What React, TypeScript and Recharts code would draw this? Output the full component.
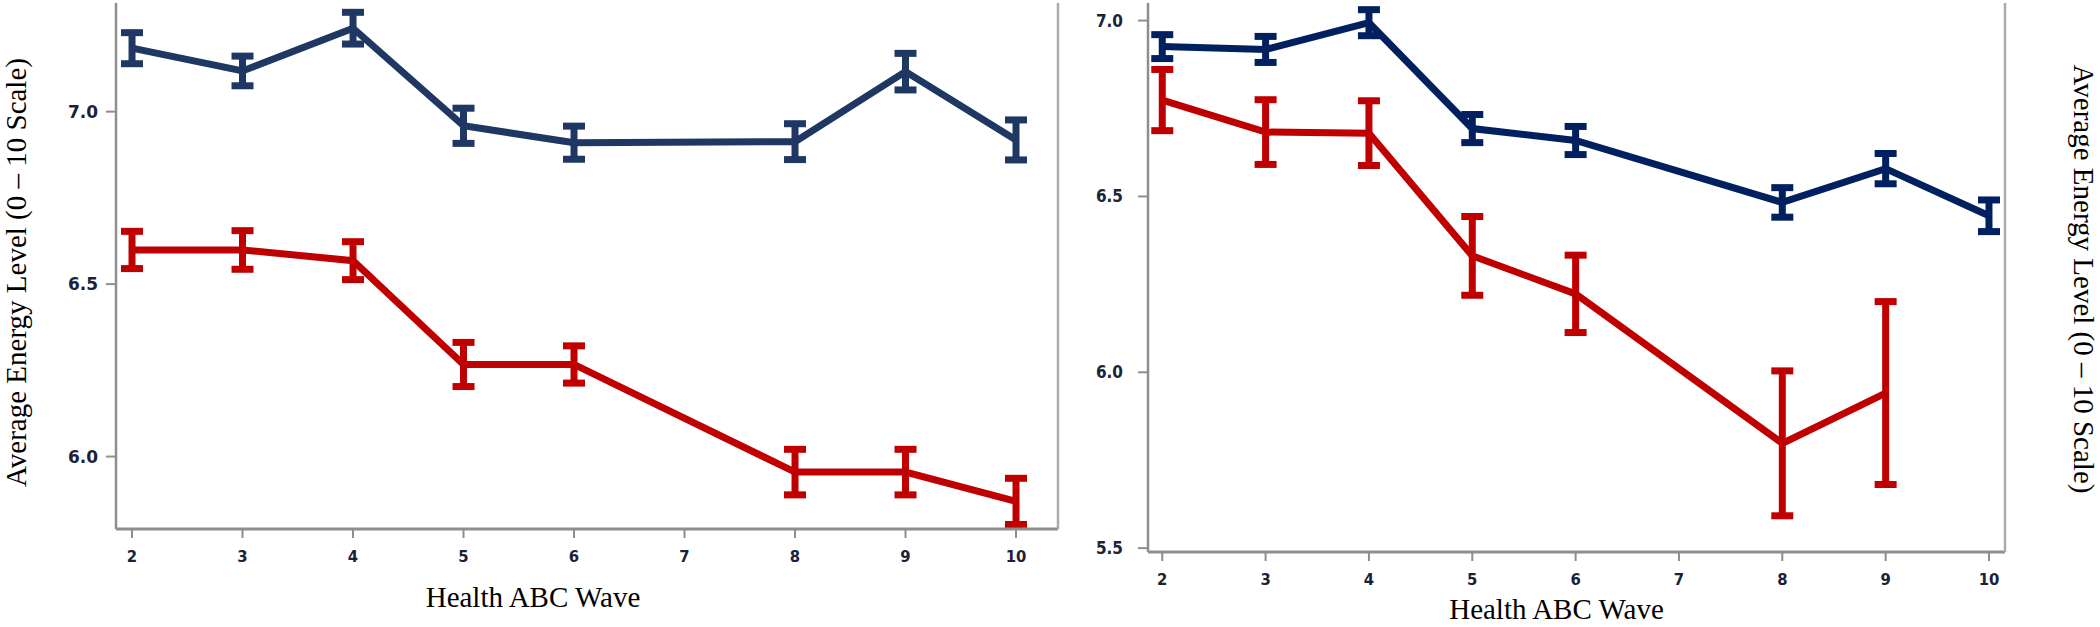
import { LineChart, Line, XAxis, YAxis, ErrorBar } from "recharts";

// Health ABC waves shown on both panels
const waves = [2, 3, 4, 5, 6, 8, 9, 10];
const waveTicks = [2, 3, 4, 5, 6, 7, 8, 9, 10];

// left panel
const leftBlue = [7.184, 7.118, 7.242, 6.959, 6.91, 6.913, 7.116, 6.918];
const leftBlueErr = [0.045, 0.043, 0.046, 0.051, 0.048, 0.052, 0.053, 0.058];
const leftRed = [6.599, 6.599, 6.568, 6.267, 6.267, 5.955, 5.955, 5.87];
const leftRedErr = [0.054, 0.056, 0.055, 0.064, 0.054, 0.066, 0.066, 0.067];
const leftYTicks = [6.0, 6.5, 7.0];

// right panel (no red value at wave 10)
const rightBlue = [6.926, 6.918, 6.994, 6.693, 6.659, 6.483, 6.579, 6.445];
const rightBlueErr = [0.034, 0.037, 0.037, 0.04, 0.04, 0.042, 0.043, 0.045];
const rightRed = [6.774, 6.683, 6.68, 6.331, 6.223, 5.798, 5.941, null];
const rightRedErr = [0.087, 0.092, 0.092, 0.112, 0.11, 0.206, 0.26, null];
const rightYTicks = [5.5, 6.0, 6.5, 7.0];

const yTitle = "Average Energy Level (0 \u2013 10 Scale)";
const xTitle = "Health ABC Wave";

const serif = "'Liberation Serif', 'Times New Roman', serif";
const tickFont = "'DejaVu Sans Condensed', 'DejaVu Sans', sans-serif";
const frameColor = "#ababab";
const axisColor = "#8e8e8e";
const tickColor = "#1b2238";
const red = "#c00000";

function buildRows(blue: any[], blueErr: any[], redVals: any[], redErr: any[]) {
  return waves.map((w, i) => ({
    wave: w,
    blue: blue[i],
    blueErr: blueErr[i],
    red: redVals[i],
    redErr: redErr[i],
  }));
}

const leftRows = buildRows(leftBlue, leftBlueErr, leftRed, leftRedErr);
const rightRows = buildRows(rightBlue, rightBlueErr, rightRed, rightRedErr);

function Panel(props: any) {
  const {
    rows, left, width, yWidth, rightWidth, xHeight, xDomain, yDomain, yTicks,
    blue, yTick, yTickMargin, xLabel, yLabel, rightLabel,
  } = props;

  const titleStyle = { fontFamily: serif, fontSize: 29, fill: "#000", style: { fontFamily: serif } };

  return (
    <div style={{ position: "absolute", left, top: 0 }}>
      <LineChart
        width={width}
        height={627}
        data={rows}
        margin={{ top: 3, right: 0, bottom: 0, left: 0 }}
      >
        <XAxis
          xAxisId="top"
          orientation="top"
          type="number"
          domain={xDomain}
          allowDataOverflow
          height={0}
          tick={false}
          tickLine={false}
          axisLine={{ stroke: frameColor, strokeWidth: 2.5 }}
        />
        <XAxis
          dataKey="wave"
          type="number"
          domain={xDomain}
          allowDataOverflow
          ticks={waveTicks}
          interval={0}
          height={xHeight}
          tickSize={9}
          tickMargin={12}
          axisLine={{ stroke: axisColor, strokeWidth: 3 }}
          tickLine={{ stroke: axisColor, strokeWidth: 2 }}
          tick={{ fontFamily: tickFont, fontSize: 16.5, fontWeight: "bold", fill: tickColor }}
          label={{ value: xTitle, position: "center", dx: xLabel.dx, dy: xLabel.dy, ...titleStyle }}
        />
        <YAxis
          type="number"
          domain={yDomain}
          allowDataOverflow
          ticks={yTicks}
          interval={0}
          width={yWidth}
          tickSize={10}
          tickMargin={yTickMargin}
          tickFormatter={(v: number) => v.toFixed(1)}
          axisLine={{ stroke: axisColor, strokeWidth: 2.5 }}
          tickLine={{ stroke: axisColor, strokeWidth: 2 }}
          tick={yTick}
          label={
            yLabel
              ? { value: yTitle, angle: -90, position: "center", dx: yLabel.dx, dy: yLabel.dy, ...titleStyle }
              : undefined
          }
        />
        <YAxis
          yAxisId="frame"
          orientation="right"
          type="number"
          domain={yDomain}
          allowDataOverflow
          width={rightWidth}
          tick={false}
          tickLine={false}
          axisLine={{ stroke: frameColor, strokeWidth: 2.5 }}
          label={
            rightLabel
              ? { value: yTitle, angle: 90, position: "center", dx: rightLabel.dx, dy: rightLabel.dy, ...titleStyle }
              : undefined
          }
        />
        <Line
          dataKey="blue"
          type="linear"
          stroke={blue}
          strokeWidth={7}
          dot={false}
          activeDot={false}
          isAnimationActive={false}
        >
          <ErrorBar dataKey="blueErr" width={11} stroke={blue} strokeWidth={7} direction="y" isAnimationActive={false} />
        </Line>
        <Line
          dataKey="red"
          type="linear"
          stroke={red}
          strokeWidth={7}
          dot={false}
          activeDot={false}
          isAnimationActive={false}
        >
          <ErrorBar dataKey="redErr" width={11} stroke={red} strokeWidth={7} direction="y" isAnimationActive={false} />
        </Line>
      </LineChart>
    </div>
  );
}

export default function App() {
  return (
    <div style={{ position: "absolute", left: 0, top: 0, width: 2100, height: 627, background: "#fff" }}>
      <Panel
        rows={leftRows}
        left={0}
        width={1070}
        yWidth={116}
        rightWidth={12}
        xHeight={98}
        xDomain={[1.855, 10.38]}
        yDomain={[5.79, 7.315]}
        yTicks={leftYTicks}
        blue="#1f3763"
        yTick={{ fontFamily: "'DejaVu Sans', sans-serif", fontSize: 17, fontWeight: "bold", fill: tickColor }}
        yTickMargin={8}
        xLabel={{ dx: -54, dy: 19 }}
        yLabel={{ dx: -42, dy: 6.5 }}
      />
      <Panel
        rows={rightRows}
        left={1080}
        width={1020}
        yWidth={68}
        rightWidth={95}
        xHeight={75}
        xDomain={[1.862, 10.155]}
        yDomain={[5.489, 7.05]}
        yTicks={rightYTicks}
        blue="#00205f"
        yTick={{ fontFamily: tickFont, fontSize: 17, fontWeight: "bold", fill: tickColor }}
        yTickMargin={15}
        xLabel={{ dx: -20, dy: 19 }}
        rightLabel={{ dx: 31.5, dy: 1.5 }}
      />
    </div>
  );
}
